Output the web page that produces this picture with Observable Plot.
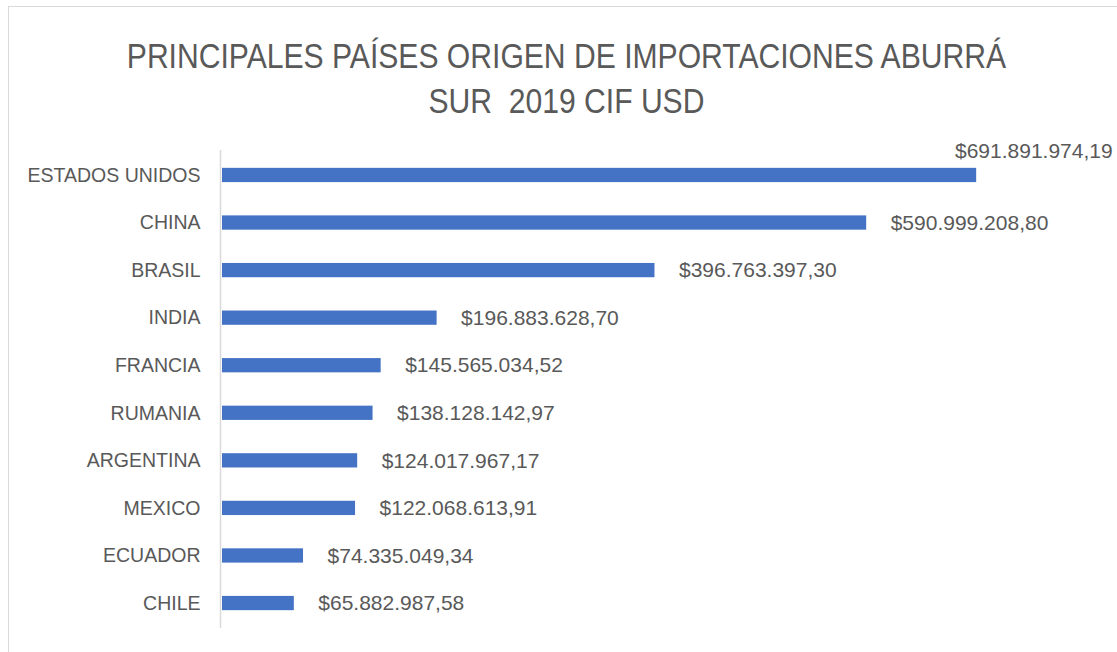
<!DOCTYPE html>
<html>
<head>
<meta charset="utf-8">
<script src="https://cdn.jsdelivr.net/npm/d3@7"></script>
<script src="https://cdn.jsdelivr.net/npm/@observablehq/plot@0.6"></script>
<style>
  html, body { margin: 0; padding: 0; background: #fff; width: 1117px; height: 652px; overflow: hidden; }
  #frame { position: absolute; left: 8px; top: 6px; width: 1200px; height: 700px; border: 1px solid #d9d9d9; box-sizing: border-box; }
  #title { position: absolute; left: 0; top: 33px; width: 1117px; text-align: center; font-family: "Liberation Sans", Arial, sans-serif; font-size: 35px; line-height: 45px; color: #595959; transform: translateX(8px) scaleX(0.86); transform-origin: 558px 0; }
  #chart { position: absolute; left: 0; top: 130px; }
</style>
</head>
<body>
<div id="frame"></div>
<div id="title">PRINCIPALES PAÍSES ORIGEN DE IMPORTACIONES ABURRÁ<br>SUR&nbsp; 2019 CIF USD</div>
<div id="chart"></div>
<script>
const countries = ["ESTADOS UNIDOS", "CHINA", "BRASIL", "INDIA", "FRANCIA", "RUMANIA", "ARGENTINA", "MEXICO", "ECUADOR", "CHILE"];
const values = [691891974.19, 590999208.80, 396763397.30, 196883628.70, 145565034.52, 138128142.97, 124017967.17, 122068613.91, 74335049.34, 65882987.58];

const data = countries.map((c, i) => ({country: c, value: values[i]}));
const locale = d3.formatLocale({decimal: ",", thousands: ".", grouping: [3], currency: ["$", ""]});
const fmt = locale.format("$,.2f");

const chart = Plot.plot({
  width: 1117,
  height: 520,
  marginTop: 20,
  marginBottom: 22,
  marginLeft: 222,
  marginRight: 23,
  style: {fontFamily: "'Liberation Sans', Arial, sans-serif", color: "#595959", background: "transparent"},
  x: {domain: [0, 800e6], axis: null},
  y: {domain: countries, paddingInner: 0.7, paddingOuter: 0.375, round: false, label: null, tickSize: 0, tickPadding: 22},
  marks: [
    Plot.axisY({tickSize: 0, tickPadding: 22, fontSize: 19.5, fill: "#595959", label: null}),
    Plot.barX(data, {x: "value", y: "country", fill: "#4472C4"}),
    Plot.ruleX([0], {stroke: "#d9d9d9", strokeWidth: 1.5, dx: -2}),
    Plot.text(data.slice(1), {x: "value", y: "country", text: d => fmt(d.value), textAnchor: "start", dx: 24, fontSize: 21, fill: "#595959"}),
    Plot.text(data.slice(0, 1), {x: "value", y: "country", text: d => fmt(d.value), textAnchor: "end", dx: 136, dy: -24, fontSize: 21, fill: "#595959"})
  ]
});
document.getElementById("chart").appendChild(chart);
</script>
</body>
</html>
